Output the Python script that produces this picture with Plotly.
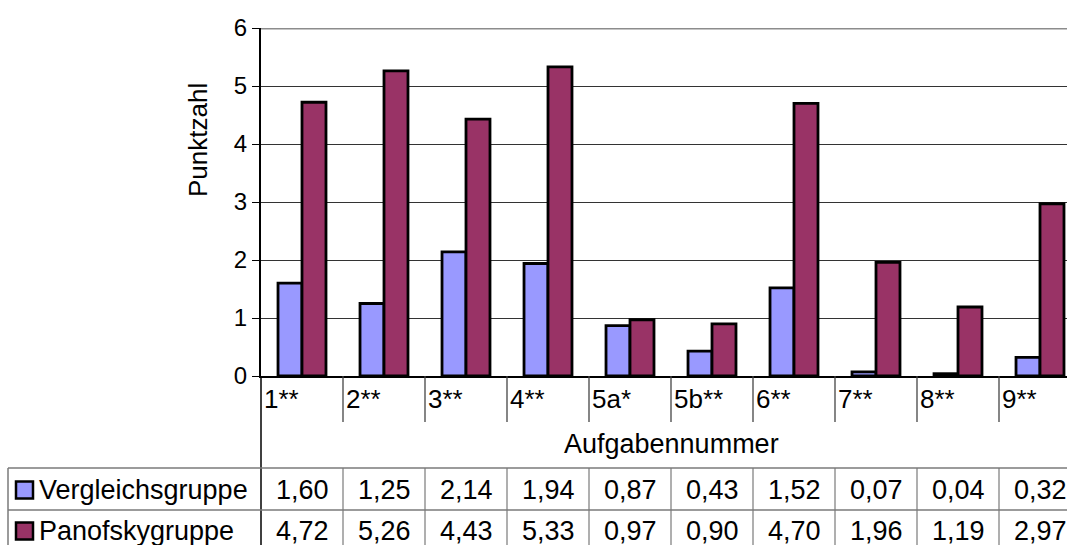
import plotly.graph_objects as go

categories = ["1**", "2**", "3**", "4**", "5a*", "5b**", "6**", "7**", "8**", "9**"]
vergleich = [1.60, 1.25, 2.14, 1.94, 0.87, 0.43, 1.52, 0.07, 0.04, 0.32]
panofsky = [4.72, 5.26, 4.43, 5.33, 0.97, 0.90, 4.70, 1.96, 1.19, 2.97]
series_names = ["Vergleichsgruppe", "Panofskygruppe"]
y_ticks = [0, 1, 2, 3, 4, 5, 6]

FONT = "Liberation Sans, Arial, sans-serif"
BLUE = "#9999FF"
MAROON = "#993366"

# body margin is removed by a post script, so the figure sits at (0, 0)
W, H = 1067, 545
L, T = 261, 28
BOTTOM_PAGE = 376
B = H - BOTTOM_PAGE
PW = W - L
PH = H - T - B
CAT_W = 82.0


def py(px):
    return (BOTTOM_PAGE - px) / PH


def pxx(px):
    return (px - L) / PW


xs = list(range(len(categories)))

fig = go.Figure()
fig.add_trace(go.Bar(x=xs, y=vergleich, name=series_names[0],
                     marker=dict(color=BLUE, line=dict(color="black", width=2.8))))
fig.add_trace(go.Bar(x=xs, y=panofsky, name=series_names[1],
                     marker=dict(color=MAROON, line=dict(color="black", width=2.8))))

shapes = []
annotations = []

shapes.append(dict(type="line", xref="paper", yref="y", x0=0, x1=1.02, y0=6, y1=6,
                   line=dict(color="#8c8c8c", width=3)))
shapes.append(dict(type="line", xref="paper", yref="paper", x0=0, x1=0, y0=0, y1=py(560),
                   line=dict(color="black", width=1.5)))

for i, c in enumerate(categories):
    if i > 0:
        shapes.append(dict(type="line", xref="x", yref="paper", x0=i - 0.5, x1=i - 0.5,
                           y0=0, y1=py(422), line=dict(color="#444444", width=1.3)))
    annotations.append(dict(x=i - 0.5, y=py(399), xref="x", yref="paper", text=c,
                            showarrow=False, xanchor="left", yanchor="middle", xshift=1,
                            font=dict(family=FONT, size=26, color="black")))

annotations.append(dict(x=4.5, y=py(444), xref="x", yref="paper", text="Aufgabennummer",
                        showarrow=False, xanchor="center", yanchor="middle",
                        font=dict(family=FONT, size=27, color="black")))
annotations.append(dict(x=pxx(198), y=py(140), xref="paper", yref="paper", text="Punktzahl",
                        showarrow=False, textangle=-90, xanchor="center", yanchor="middle",
                        font=dict(family=FONT, size=26, color="black")))

TABLE_GREY = "#7a7a7a"
for ypx in (468, 510):
    shapes.append(dict(type="line", xref="paper", yref="paper", x0=pxx(8), x1=1.02,
                       y0=py(ypx), y1=py(ypx), line=dict(color=TABLE_GREY, width=1.5)))
shapes.append(dict(type="line", xref="paper", yref="paper", x0=pxx(8), x1=pxx(8),
                   y0=py(468), y1=py(560), line=dict(color=TABLE_GREY, width=1.5)))
for i in range(1, len(categories)):
    shapes.append(dict(type="line", xref="x", yref="paper", x0=i - 0.5, x1=i - 0.5,
                       y0=py(468), y1=py(560), line=dict(color=TABLE_GREY, width=1.2)))

rows = [(series_names[0], vergleich, BLUE, 490), (series_names[1], panofsky, MAROON, 531)]
for name, vals, col, cy in rows:
    shapes.append(dict(type="rect", xref="paper", yref="paper", x0=pxx(16), x1=pxx(33),
                       y0=py(cy - 8.5), y1=py(cy + 8.5), fillcolor=col,
                       line=dict(color="black", width=2.5)))
    annotations.append(dict(x=pxx(37), y=py(cy), xref="paper", yref="paper", text=name,
                            showarrow=False, xanchor="left", yanchor="middle",
                            font=dict(family=FONT, size=27, color="black")))
    for i, v in enumerate(vals):
        annotations.append(dict(x=i, y=py(cy), xref="x", yref="paper",
                                text=f"{v:.2f}".replace(".", ","),
                                showarrow=False, xanchor="center", yanchor="middle",
                                font=dict(family=FONT, size=27, color="black")))

fig.update_layout(
    width=W, height=H,
    margin=dict(l=L, r=0, t=T, b=B, pad=0),
    paper_bgcolor="white", plot_bgcolor="white",
    barmode="group", bargap=0.415, bargroupgap=0,
    showlegend=False, hovermode=False,
    font=dict(family=FONT, color="black"),
    shapes=shapes, annotations=annotations,
    xaxis=dict(range=[-0.5, -0.5 + PW / CAT_W], showticklabels=False, showgrid=False,
               zeroline=False, showline=True, linecolor="black", linewidth=2,
               ticks="", fixedrange=True),
    yaxis=dict(range=[0, 6], tickvals=y_ticks, ticktext=[str(t) for t in y_ticks],
               showgrid=True, gridcolor="#333333", gridwidth=1,
               zeroline=False, showline=True, linecolor="black", linewidth=2,
               ticks="outside", ticklen=7, tickcolor="black", tickwidth=1,
               tickfont=dict(family=FONT, size=24, color="black"), fixedrange=True),
)

fig.write_html("out.html",
               config={"displayModeBar": False, "staticPlot": True},
               post_script="document.body.style.margin='0';document.body.style.overflow='hidden';")
